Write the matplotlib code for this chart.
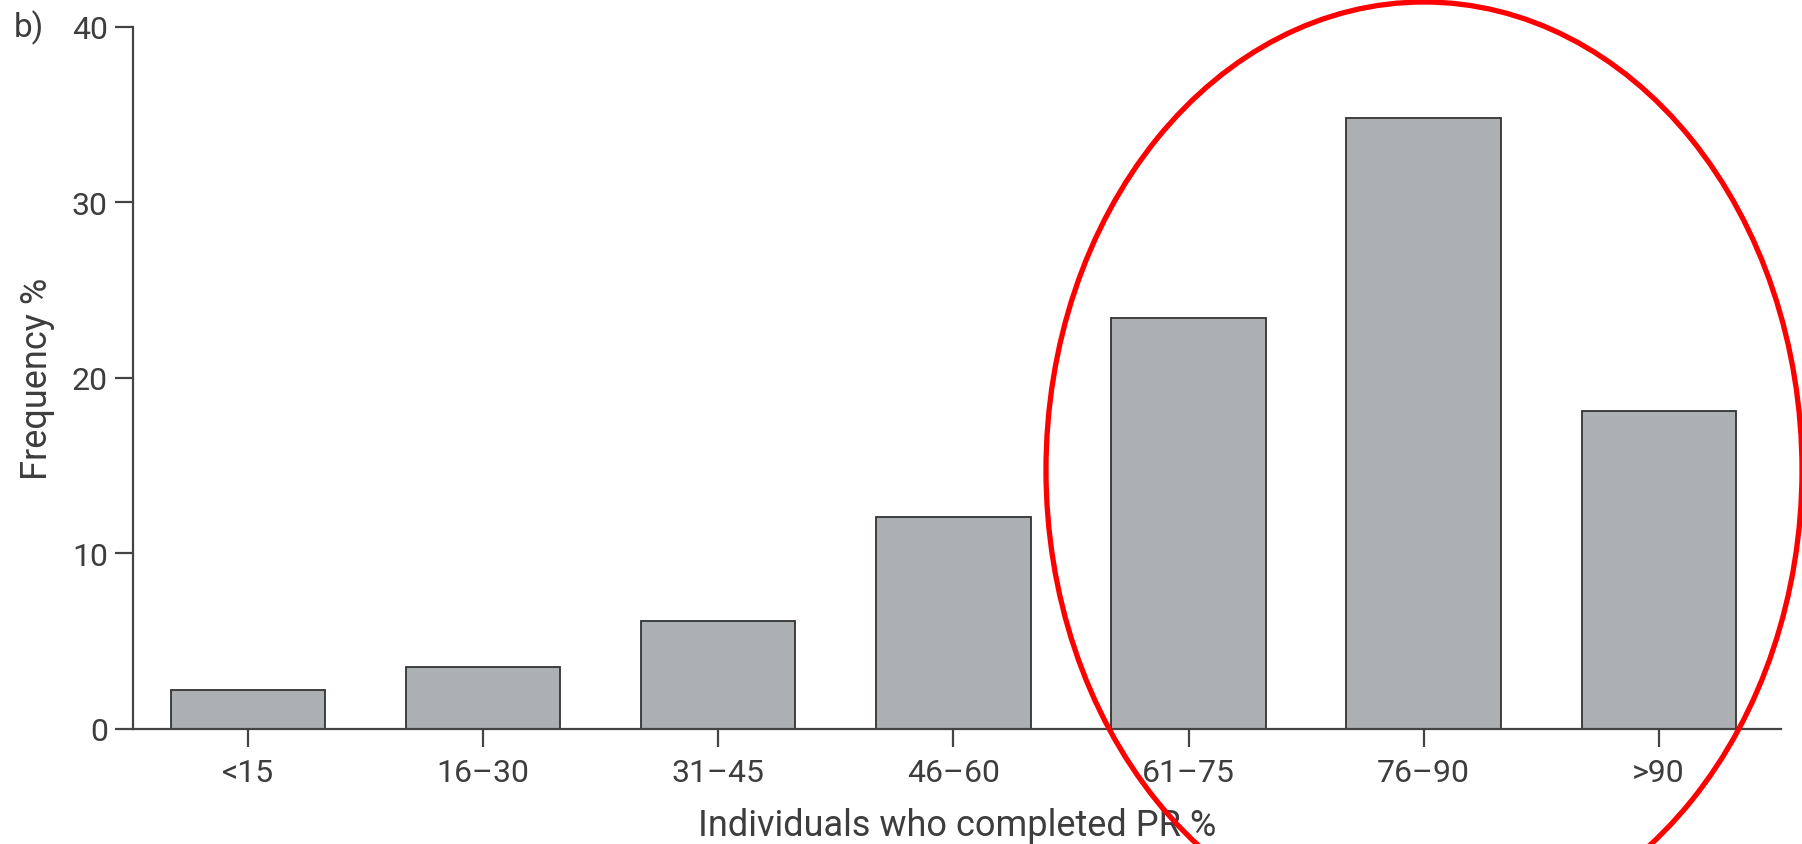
import matplotlib
matplotlib.use("Agg")
import matplotlib.pyplot as plt
from matplotlib.patches import Ellipse

# Data
categories = ["<15", "16\u201330", "31\u201345", "46\u201360", "61\u201375", "76\u201390", ">90"]
frequency = [2.2, 3.55, 6.15, 12.1, 23.4, 34.8, 18.1]
y_ticks = [0, 10, 20, 30, 40]

plt.rcParams['font.family'] = ['Roboto', 'DejaVu Sans']
text_color = "#3d3d3d"
line_color = "#444444"

fig = plt.figure(figsize=(18.02, 8.45), dpi=100)
ax = fig.add_axes([0.0738, 0.1361, 0.9145, 0.8308])

x = range(len(categories))
ax.bar(x, frequency, width=0.656, color="#adb0b2", edgecolor="#333333", linewidth=1.3, zorder=2)

ax.set_xlim(-0.49, 6.52)
ax.set_ylim(0, 40)
ax.set_xticks(list(x))
ax.set_xticklabels(categories)
ax.set_yticks(y_ticks)

for side in ["top", "right"]:
    ax.spines[side].set_visible(False)
for side in ["left", "bottom"]:
    ax.spines[side].set_color(line_color)
    ax.spines[side].set_linewidth(1.6)

ax.tick_params(axis="both", colors=line_color, labelcolor=text_color,
               labelsize=23, length=13, width=1.6)
ax.tick_params(axis="y", pad=5)
ax.tick_params(axis="x", pad=8)

ax.set_ylabel("Frequency %", fontsize=26, color=text_color, labelpad=12)
ax.set_xlabel("Individuals who completed PR %", fontsize=26, color=text_color, labelpad=14)

fig.text(14 / 1802, 1 - 28 / 845, "b)", fontsize=24, color=text_color, va="center", ha="left")

# red annotation ellipse around the upper categories
ell = Ellipse((1424 / 1802, 1 - 471 / 845), 2 * 378 / 1802, 2 * 468 / 845,
              transform=fig.transFigure, fill=False, edgecolor="red",
              linewidth=3.8, clip_on=False, zorder=5)
fig.patches.append(ell)

fig.savefig("out.png", dpi=100)
